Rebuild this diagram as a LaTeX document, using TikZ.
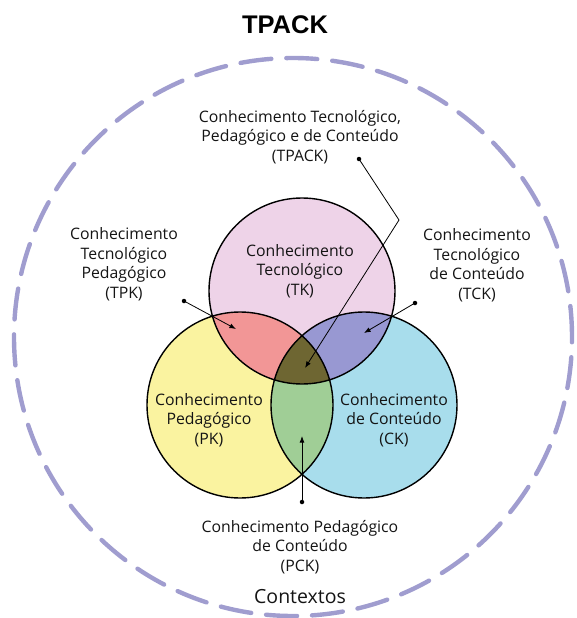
\documentclass[tikz,border=0pt]{standalone}
\usepackage{fontspec}
\setmainfont{Open Sans}
\newfontfamily\titlefont{Liberation Sans}
\usetikzlibrary{arrows.meta}
\definecolor{tkpink}{HTML}{EED3E8}
\definecolor{pkyellow}{HTML}{FAF3A0}
\definecolor{ckblue}{HTML}{A8DDEC}
\definecolor{tpkred}{HTML}{F29696}
\definecolor{tckviolet}{HTML}{9898D2}
\definecolor{pckgreen}{HTML}{A0CE96}
\definecolor{tpackolive}{HTML}{6E6632}
\definecolor{ctxlilac}{HTML}{A09DCF}

\begin{document}
\begin{tikzpicture}[x=1pt,y=-1pt,>=Latex,
  font=\fontsize{15.8}{19.5}\selectfont,
  lbl/.style={align=center,text=black!92},
  ptr/.style={->,line width=0.8pt,shorten >=0pt},
  dot/.style={circle,fill=black,inner sep=0pt,minimum size=4.5pt}]
  \useasboundingbox (0,0) rectangle (576,618);
  \node (title) at (285,25) {\titlefont\bfseries\fontsize{25.5}{29}\selectfont TPACK};
  \draw[ctxlilac,line width=4.4pt,dash pattern=on 31pt off 15pt,line cap=round]
    (293,337) circle (279pt);
  % the three circles
  \coordinate (tk) at (302,291);
  \coordinate (pk) at (240,405);
  \coordinate (ck) at (364,405);
  \fill[tkpink] (tk) circle (93pt);
  \fill[pkyellow] (pk) circle (93pt);
  \fill[ckblue] (ck) circle (93pt);
  \begin{scope}
    \clip (tk) circle (93pt);
    \fill[tpkred] (pk) circle (93pt);
    \fill[tckviolet] (ck) circle (93pt);
  \end{scope}
  \begin{scope}
    \clip (pk) circle (93pt);
    \fill[pckgreen] (ck) circle (93pt);
  \end{scope}
  \begin{scope}
    \clip (tk) circle (93pt);
    \clip (pk) circle (93pt);
    \fill[tpackolive] (ck) circle (93pt);
  \end{scope}
  \draw[line width=1.4pt] (tk) circle (93pt) (pk) circle (93pt) (ck) circle (93pt);
  % labels
  \node[lbl] (tklbl) at (300,271) {Conhecimento\\Tecnológico\\(TK)};
  \node[lbl] (pklbl) at (209,420) {Conhecimento\\Pedagógico\\(PK)};
  \node[lbl] (cklbl) at (394,420) {Conhecimento\\de Conteúdo\\(CK)};
  \node[lbl] (tpacklbl) at (300,137) {Conhecimento Tecnológico,\\Pedagógico e de Conteúdo\\(TPACK)};
  \node[lbl] (tpklbl) at (124,264) {Conhecimento\\Tecnológico\\Pedagógico\\(TPK)};
  \node[lbl] (tcklbl) at (477,265) {Conhecimento\\Tecnológico\\de Conteúdo\\(TCK)};
  \node[lbl] (pcklbl) at (300,547) {Conhecimento Pedagógico\\de Conteúdo\\(PCK)};
  \node[lbl,font=\fontsize{19.5}{22}\selectfont] (ctx) at (300,597) {Contextos};
  % pointers
  \node[dot] (tpackdot) at (359,159) {};
  \coordinate (bend) at (399,220);
  \coordinate (tpacktip) at (305,368);
  \draw[ptr] (tpackdot.center) -- (bend) -- (tpacktip);
  \node[dot] (tpkdot) at (184,301) {};
  \coordinate (tpktip) at (236,329);
  \draw[ptr] (tpkdot.center) -- (tpktip);
  \node[dot] (tckdot) at (415,303) {};
  \coordinate (tcktip) at (364,333);
  \draw[ptr] (tckdot.center) -- (tcktip);
  \node[dot] (pckdot) at (302,502) {};
  \coordinate (pcktip) at (302,436);
  \draw[ptr] (pckdot.center) -- (pcktip);
\end{tikzpicture}
\end{document}
